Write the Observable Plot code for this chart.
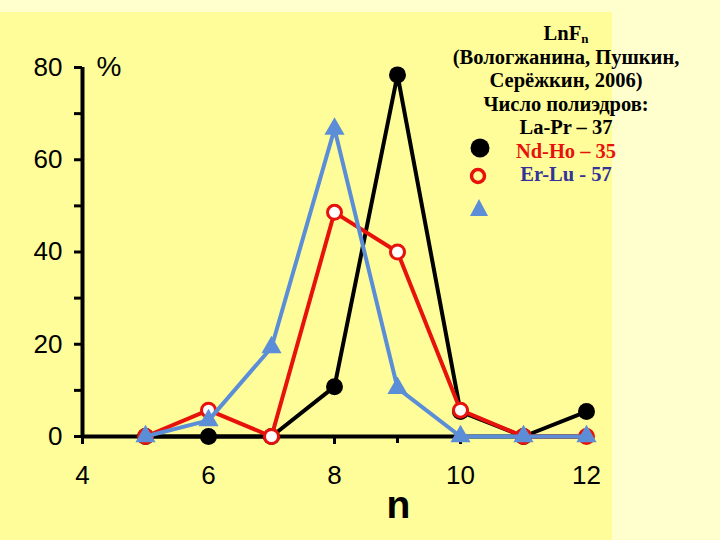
<!DOCTYPE html>
<html>
<head>
<meta charset="utf-8">
<script src="https://cdn.jsdelivr.net/npm/d3@7"></script>
<script src="https://cdn.jsdelivr.net/npm/@observablehq/plot@0.6"></script>
<style>
  html, body { margin: 0; padding: 0; }
  body { width: 720px; height: 540px; background: #FFFFCE; position: relative; overflow: hidden; }
  #panel { position: absolute; left: 0; top: 12px; width: 612px; height: 528px; background: #FFFD9A; }
  #chart { position: absolute; left: 0; top: 0; }
  #legend { position: absolute; left: 446px; top: 22px; width: 240px; text-align: center;
    font-family: "Liberation Serif", "Times New Roman", serif; font-weight: bold; font-size: 20.5px; line-height: 23.5px; color: #000; }
  #legend sub { font-size: 13px; position: relative; top: 3px; vertical-align: baseline; line-height: 0; }
  #legendMarks { position: absolute; left: 0; top: 0; pointer-events: none; }
</style>
</head>
<body>
<div id="panel"></div>
<div id="chart"></div>
<div id="legend"></div>
<svg id="legendMarks" width="720" height="540"></svg>
<script>
// ---- data ----
const ns = [5, 6, 7, 8, 9, 10, 11, 12];
const laPr = [0, 0, 0, 10.8, 78.4, 5.4, 0, 5.4];     // La-Pr – 37
const ndHo = [0, 5.7, 0, 48.6, 40, 5.7, 0, 0];       // Nd-Ho – 35
const erLu = [0, 3.5, 19.3, 66.7, 10.5, 0, 0, 0];    // Er-Lu - 57
const seriesNames = ["La-Pr – 37", "Nd-Ho – 35", "Er-Lu - 57"];
const xTicks = [4, 6, 8, 10, 12];
const xMinorTicks = [5, 7, 9, 11];
const yTicks = [0, 20, 40, 60, 80];
const yMinorTicks = [10, 30, 50, 70];
const titleLines = ["(Вологжанина, Пушкин,", "Серёжкин, 2006)", "Число полиэдров:"];

const BLACK = "#000000", RED = "#E8120C", BLUE = "#5B8ED6", NAVY = "#333399";

const rows = (vals) => ns.map((n, i) => ({n, v: vals[i]}));
const black = rows(laPr), red = rows(ndHo), blue = rows(erLu);

const chart = Plot.plot({
  width: 720,
  height: 540,
  marginLeft: 82,
  marginRight: 134,
  marginTop: 67,
  marginBottom: 104,
  style: {fontFamily: "Liberation Sans, Arial, sans-serif", background: "transparent", overflow: "visible"},
  x: {domain: [4, 12]},
  y: {domain: [0, 80]},
  marks: [
    Plot.axisY({ticks: yMinorTicks, tickSize: 8, strokeWidth: 3, text: null, label: null, color: "black"}),
    Plot.axisY({ticks: yTicks, tickSize: 8, strokeWidth: 3, tickPadding: 12, fontSize: 26, label: null, color: "black"}),
    Plot.axisX({ticks: xMinorTicks, tickSize: 7, strokeWidth: 3, text: null, label: null, color: "black"}),
    Plot.axisX({ticks: xTicks, tickSize: 8, strokeWidth: 3, tickPadding: 21, fontSize: 26, label: null, color: "black"}),
    Plot.ruleX([4], {y1: 0, y2: 80, stroke: "black", strokeWidth: 4}),
    Plot.ruleY([0], {x1: 4, x2: 12, stroke: "black", strokeWidth: 4}),
    Plot.text(["%"], {frameAnchor: "top-left", dx: 14, dy: -11, textAnchor: "start", fontSize: 28, fill: "black"}),
    Plot.text(["n"], {frameAnchor: "bottom", dx: 64, dy: 81, fontSize: 39, fontWeight: "bold", fill: "black"}),
    // La-Pr
    Plot.line(black, {x: "n", y: "v", stroke: BLACK, strokeWidth: 4}),
    Plot.dot(black, {x: "n", y: "v", r: 8.5, fill: BLACK, stroke: "none"}),
    // Nd-Ho
    Plot.line(red, {x: "n", y: "v", stroke: RED, strokeWidth: 4}),
    Plot.dot(red, {x: "n", y: "v", r: 7, fill: "white", stroke: RED, strokeWidth: 3}),
    // Er-Lu
    Plot.line(blue, {x: "n", y: "v", stroke: BLUE, strokeWidth: 4}),
    Plot.dot(blue, {x: "n", y: "v", r: 7.5, symbol: "triangle", fill: BLUE, stroke: "none"})
  ]
});
document.getElementById("chart").appendChild(chart);

// ---- legend ----
const legend = document.getElementById("legend");
const colorsText = [BLACK, RED, NAVY];
let html = `<div>LnF<sub>n</sub></div>`;
titleLines.forEach(t => html += `<div>${t}</div>`);
seriesNames.forEach((t, i) => html += `<div style="color:${colorsText[i]}">${t}</div>`);
legend.innerHTML = html;

const lm = d3.select("#legendMarks");
lm.append("circle").attr("cx", 480).attr("cy", 148).attr("r", 9.5).attr("fill", BLACK);
lm.append("circle").attr("cx", 478).attr("cy", 176).attr("r", 6.5).attr("fill", "none").attr("stroke", RED).attr("stroke-width", 3.5);
lm.append("path").attr("d", "M470,216 L488,216 L479,199 Z").attr("fill", BLUE);
</script>
</body>
</html>
